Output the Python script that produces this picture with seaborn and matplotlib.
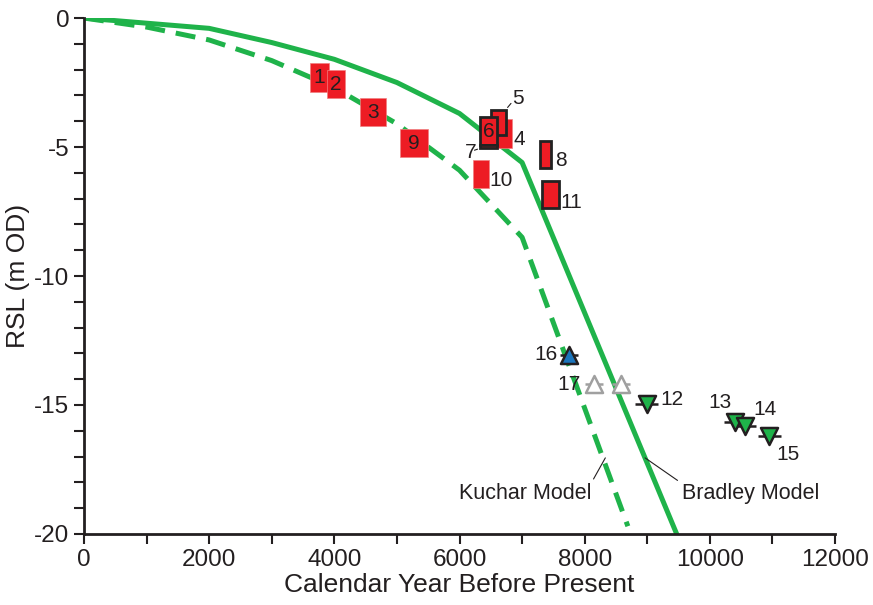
import matplotlib
matplotlib.use('Agg')
import matplotlib.pyplot as plt
import seaborn as sns
import pandas as pd

# model curves (calendar years BP, RSL m OD)
bradley_age = [0, 2000, 3000, 4000, 5000, 6000, 7000, 9470]
bradley_rsl = [0, -0.4, -0.95, -1.6, -2.5, -3.7, -5.6, -20.0]
kuchar_age = [0, 1000, 2000, 3000, 4000, 5000, 6000, 7000, 8690]
kuchar_rsl = [0, -0.35, -0.85, -1.65, -2.7, -4.1, -5.9, -8.5, -19.7]

# index points: age range and RSL range
box_labels = ['1', '2', '3', '9', '4', '5', '6', '7', '8', '10', '11']
box_age_min = [3610, 3880, 4410, 5050, 6600, 6500, 6330, 6330, 7290, 6215, 7320]
box_age_max = [3915, 4170, 4825, 5495, 6840, 6740, 6600, 6600, 7460, 6470, 7590]
box_rsl_top = [-1.75, -2.0, -3.1, -4.3, -3.9, -3.55, -3.85, -4.92, -4.75, -5.5, -6.3]
box_rsl_bot = [-2.85, -3.1, -4.2, -5.4, -5.05, -4.55, -4.92, -5.05, -5.8, -6.6, -7.35]
box_edged = [False, False, False, False, False, True, True, True, True, False, True]
# label offsets in pixels from box centre (dx right, dy up)
box_dx = [0, 0, 0, 0, 15, 20, 0, -18, 15, 20, 21]
box_dy = [0, -1, 0, 0, -6, 24, 0, -6, -6, -6, -8]

# limiting points
tri_labels = ['16', '17', '', '12', '13', '14', '15']
tri_age = [7750, 8150, 8580, 8990, 10400, 10560, 10950]
tri_rsl = [-13.05, -14.2, -14.2, -14.95, -15.65, -15.8, -16.2]
tri_err = [140, 140, 140, 180, 180, 180, 180]
tri_kind = ['marine', 'grey', 'grey', 'terr', 'terr', 'terr', 'terr']
tri_dx = [-23, -25, 0, 25, -15, 20, 19]
tri_dy = [0, 0, 0, 4, 19, 16, -19]

green = '#1fb34a'
red = '#ed1c24'
blue = '#1b75bc'

sns.set_style('ticks')
plt.rcParams['font.family'] = ['Liberation Sans', 'DejaVu Sans']

fig = plt.figure(figsize=(8.73, 6.05), dpi=100)
ax = fig.add_axes([0.0962, 0.1174, 0.8603, 0.8528])

models = pd.concat([
    pd.DataFrame({'age': bradley_age, 'rsl': bradley_rsl, 'model': 'Bradley'}),
    pd.DataFrame({'age': kuchar_age, 'rsl': kuchar_rsl, 'model': 'Kuchar'}),
])
sns.lineplot(data=models, x='age', y='rsl', style='model', sort=False,
             estimator=None, color=green, lw=3.6, legend=False,
             dashes={'Bradley': '', 'Kuchar': (4, 2.2)}, ax=ax, zorder=2)

# boxes
px = 0.72  # pixels to points
for i, lab in enumerate(box_labels):
    c = (box_age_min[i] + box_age_max[i]) / 2
    w = box_age_max[i] - box_age_min[i]
    h = box_rsl_top[i] - box_rsl_bot[i]
    ax.bar(c, h, bottom=box_rsl_bot[i], width=w, color=red,
           edgecolor='#222222' if box_edged[i] else '#f08080',
           linewidth=2 if box_edged[i] else 0.5, zorder=3)
    ymid = (box_rsl_top[i] + box_rsl_bot[i]) / 2
    ax.annotate(lab, (c, ymid), xytext=(box_dx[i] * px, box_dy[i] * px),
                textcoords='offset points', ha='center', va='center',
                fontsize=15, color='#231f20', zorder=5)

# leader lines for 5 and 7
ax.annotate('', (box_age_max[5], box_rsl_top[5]), xytext=(5, 6),
            textcoords='offset points',
            arrowprops=dict(arrowstyle='-', lw=0.8, color='#231f20'))
ax.annotate('', (box_age_min[7], box_rsl_bot[7]), xytext=(-6, -2),
            textcoords='offset points',
            arrowprops=dict(arrowstyle='-', lw=0.8, color='#231f20'))

# triangles
tri = pd.DataFrame({'age': tri_age, 'rsl': tri_rsl, 'kind': tri_kind})
for kind, mk, fc, ec in [('marine', '^', blue, '#231f20'),
                         ('grey', '^', 'white', '#a0a0a0'),
                         ('terr', 'v', green, '#231f20')]:
    sub = tri[tri['kind'] == kind]
    err = [tri_err[j] for j in sub.index]
    ax.errorbar(sub['age'], sub['rsl'], xerr=err, fmt='none', ecolor=ec,
                elinewidth=1.8, capsize=0, zorder=3)
    sns.scatterplot(data=sub, x='age', y='rsl', marker=mk, s=150,
                    color=fc, edgecolor=ec, linewidth=1.8, ax=ax, zorder=4)

for i, lab in enumerate(tri_labels):
    if lab:
        ax.annotate(lab, (tri_age[i], tri_rsl[i]),
                    xytext=(tri_dx[i] * px, tri_dy[i] * px),
                    textcoords='offset points', ha='center', va='center',
                    fontsize=15, color='#231f20')

# model labels
ax.annotate('Kuchar Model', (8330, -17.05), xytext=(-58, -26),
            textcoords='offset points', ha='center', va='center',
            fontsize=15.5, color='#231f20',
            arrowprops=dict(arrowstyle='-', lw=0.8, color='#231f20',
                            relpos=(1, 1), shrinkA=1, shrinkB=0))
ax.annotate('Bradley Model', (8965, -17.05), xytext=(76, -26),
            textcoords='offset points', ha='center', va='center',
            fontsize=15.5, color='#231f20',
            arrowprops=dict(arrowstyle='-', lw=0.8, color='#231f20',
                            relpos=(0, 1), shrinkA=1, shrinkB=0))

ax.set_xlim(0, 12000)
ax.set_ylim(-20, 0)
ax.set_xticks(range(0, 12001, 2000))
ax.set_xticks(range(0, 12001, 1000), minor=True)
ax.set_yticks([0, -5, -10, -15, -20])
ax.set_yticklabels(['0', '-5', '-10', '-15', '-20'])
ax.set_yticks(range(-20, 1), minor=True)
ax.tick_params(which='both', direction='out', length=7, width=1.5,
               color='#231f20', labelsize=17.5, labelcolor='#231f20')
for s in ['left', 'bottom']:
    ax.spines[s].set_linewidth(2)
    ax.spines[s].set_color('#231f20')
sns.despine(ax=ax)
ax.set_xlabel('Calendar Year Before Present', fontsize=19, color='#231f20',
              labelpad=2)
ax.set_ylabel('RSL (m OD)', fontsize=19, color='#231f20', labelpad=3)

fig.savefig('out.png', dpi=100)
